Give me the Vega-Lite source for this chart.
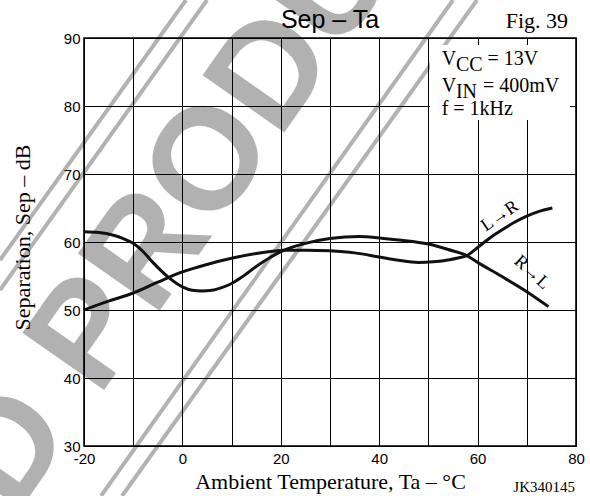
{
  "$schema": "https://vega.github.io/schema/vega-lite/v6.json",
  "width": 492,
  "height": 408,
  "autosize": {"type": "none"},
  "padding": {"left": 84, "top": 38, "right": 14, "bottom": 50},
  "background": "white",
  "config": {"view": {"stroke": "#000", "strokeWidth": 1.6}},
  "datasets": {
    "curves": [
      {"s": "R→L", "T": -20, "V": 61.5}, {"s": "R→L", "T": -17, "V": 61.4}, {"s": "R→L", "T": -14, "V": 61.0}, {"s": "R→L", "T": -12, "V": 60.5}, {"s": "R→L", "T": -10, "V": 59.8}, {"s": "R→L", "T": -8, "V": 58.6}, {"s": "R→L", "T": -6, "V": 57.0}, {"s": "R→L", "T": -3, "V": 54.9}, {"s": "R→L", "T": 0, "V": 53.4}, {"s": "R→L", "T": 2, "V": 52.9}, {"s": "R→L", "T": 4, "V": 52.8}, {"s": "R→L", "T": 6, "V": 52.9}, {"s": "R→L", "T": 8, "V": 53.3}, {"s": "R→L", "T": 10, "V": 53.9}, {"s": "R→L", "T": 12, "V": 54.8}, {"s": "R→L", "T": 15, "V": 56.4}, {"s": "R→L", "T": 18, "V": 57.8}, {"s": "R→L", "T": 20.7, "V": 58.8}, {"s": "R→L", "T": 25, "V": 59.8}, {"s": "R→L", "T": 30, "V": 60.5}, {"s": "R→L", "T": 36, "V": 60.8}, {"s": "R→L", "T": 40, "V": 60.6}, {"s": "R→L", "T": 44, "V": 60.3}, {"s": "R→L", "T": 50, "V": 59.7}, {"s": "R→L", "T": 54, "V": 58.9}, {"s": "R→L", "T": 57.8, "V": 58.0}, {"s": "R→L", "T": 60, "V": 57.0}, {"s": "R→L", "T": 64.5, "V": 55.1}, {"s": "R→L", "T": 70, "V": 52.7}, {"s": "R→L", "T": 74.4, "V": 50.5},
      {"s": "L→R", "T": -20, "V": 50.0}, {"s": "L→R", "T": -15, "V": 51.3}, {"s": "L→R", "T": -10, "V": 52.5}, {"s": "L→R", "T": -5, "V": 54.1}, {"s": "L→R", "T": 0, "V": 55.6}, {"s": "L→R", "T": 5, "V": 56.7}, {"s": "L→R", "T": 10, "V": 57.6}, {"s": "L→R", "T": 15, "V": 58.3}, {"s": "L→R", "T": 20.7, "V": 58.8}, {"s": "L→R", "T": 25, "V": 58.8}, {"s": "L→R", "T": 30, "V": 58.7}, {"s": "L→R", "T": 35, "V": 58.4}, {"s": "L→R", "T": 40, "V": 57.8}, {"s": "L→R", "T": 44, "V": 57.3}, {"s": "L→R", "T": 48, "V": 57.0}, {"s": "L→R", "T": 51, "V": 57.1}, {"s": "L→R", "T": 54.3, "V": 57.4}, {"s": "L→R", "T": 56, "V": 57.65}, {"s": "L→R", "T": 57.8, "V": 58.0}, {"s": "L→R", "T": 60, "V": 59.2}, {"s": "L→R", "T": 62.5, "V": 60.6}, {"s": "L→R", "T": 65, "V": 61.8}, {"s": "L→R", "T": 67.5, "V": 62.9}, {"s": "L→R", "T": 70, "V": 63.8}, {"s": "L→R", "T": 72.5, "V": 64.5}, {"s": "L→R", "T": 75.2, "V": 65.0}
    ],
    "wmlines": [
      {"T": -37.07, "V": 57.35, "T2": 0.73, "V2": 95.59},
      {"T": -37.07, "V": 52.94, "T2": 5.0, "V2": 95.59},
      {"T": -16.54, "V": 22.65, "T2": 55.0, "V2": 95.59},
      {"T": -12.28, "V": 22.65, "T2": 59.88, "V2": 95.59}
    ],
    "wmtext": [
      {"T": -21.75, "V": 32.21, "label": "DISCONTINUED", "side": "right"},
      {"T": -17.05, "V": 37.06, "label": "PRODUCT", "side": "left"}
    ],
    "box": [{"T": 50.33, "V": 88.97, "T2": 78.78, "V2": 77.94}],
    "notes": [
      {"T": 52.7, "V": 86.0, "label": "V"},
      {"T": 55.6, "V": 85.1, "label": "CC"},
      {"T": 62.0, "V": 86.0, "label": "= 13V"},
      {"T": 52.7, "V": 82.0, "label": "V"},
      {"T": 55.6, "V": 81.2, "label": "IN"},
      {"T": 61.1, "V": 82.0, "label": "= 400mV"},
      {"T": 52.7, "V": 78.7, "label": "f = 1kHz"}
    ],
    "curvelabels": [
      {"T": 64.55, "V": 63.8, "label": "L→R"},
      {"T": 71.0, "V": 55.5, "label": "R→L"}
    ],
    "corner": [
      {"T": 30, "V": 90, "label": "Sep – Ta"},
      {"T": 80, "V": 90, "label": "Fig. 39"},
      {"T": 80, "V": 30, "label": "JK340145"}
    ]
  },
  "encoding": {
    "x": {"field": "T", "type": "quantitative", "scale": {"domain": [-20, 80], "nice": false, "zero": false},
      "axis": {"values": [-20, -10, 0, 10, 20, 30, 40, 50, 60, 70, 80], "labelExpr": "datum.value % 20 === 0 ? '' + datum.value : ''", "title": "Ambient Temperature, Ta – °C", "titleFont": "Liberation Serif", "titleFontSize": 22, "titleFontWeight": "normal", "titleColor": "#000", "titleY": 42, "titleBaseline": "alphabetic", "labelFont": "Liberation Sans", "labelFontSize": 15, "labelColor": "#000", "labelPadding": 5, "labelFlush": false, "labelOverlap": false, "ticks": false, "domain": false, "grid": true, "gridColor": "#000", "gridWidth": 1, "gridOpacity": 1}},
    "y": {"field": "V", "type": "quantitative", "scale": {"domain": [30, 90], "nice": false, "zero": false},
      "axis": {"values": [30, 40, 50, 60, 70, 80, 90], "labelExpr": "'' + datum.value", "title": "Separation, Sep – dB", "titleFont": "Liberation Serif", "titleFontSize": 22, "titleFontWeight": "normal", "titleColor": "#000", "titleX": -55, "titleY": 199, "titleAlign": "center", "titleBaseline": "alphabetic", "titleAngle": 270, "labelFont": "Liberation Sans", "labelFontSize": 15, "labelColor": "#000", "labelPadding": 4, "labelFlush": false, "labelOverlap": false, "ticks": false, "domain": false, "grid": true, "gridColor": "#000", "gridWidth": 1, "gridOpacity": 1}}
  },
  "layer": [
    {
      "data": {"name": "wmlines"},
      "mark": {"type": "rule", "color": "#000", "opacity": 0.3, "strokeWidth": 4},
      "encoding": {"x2": {"field": "T2"}, "y2": {"field": "V2"}}
    },
    {
      "data": {"name": "wmtext"},
      "transform": [{"filter": "datum.side === 'right'"}],
      "mark": {"type": "text", "align": "right", "baseline": "alphabetic", "angle": -55, "font": "Liberation Sans", "fontWeight": "bold", "fontSize": 145, "color": "#000", "opacity": 0.3},
      "encoding": {"text": {"field": "label"}}
    },
    {
      "data": {"name": "wmtext"},
      "transform": [{"filter": "datum.side === 'left'"}],
      "mark": {"type": "text", "align": "left", "baseline": "alphabetic", "angle": -55, "font": "Liberation Sans", "fontWeight": "bold", "fontSize": 145, "color": "#000", "opacity": 0.3},
      "encoding": {"text": {"field": "label"}}
    },
    {
      "data": {"name": "box"},
      "mark": {"type": "rect", "color": "white", "opacity": 1},
      "encoding": {"x2": {"field": "T2"}, "y2": {"field": "V2"}}
    },
    {
      "data": {"name": "notes"},
      "mark": {"type": "text", "align": "left", "baseline": "alphabetic", "font": "Liberation Serif", "fontSize": 20, "color": "#000"},
      "encoding": {"text": {"field": "label"}}
    },
    {
      "data": {"name": "curves"},
      "mark": {"type": "line", "color": "#111", "strokeWidth": 3, "interpolate": "monotone"},
      "encoding": {"detail": {"field": "s"}}
    },
    {
      "data": {"name": "curvelabels"},
      "transform": [{"filter": "datum.label === 'L→R'"}],
      "mark": {"type": "text", "align": "center", "baseline": "middle", "angle": -34, "font": "Liberation Serif", "fontSize": 18, "color": "#000"},
      "encoding": {"text": {"field": "label"}}
    },
    {
      "data": {"name": "curvelabels"},
      "transform": [{"filter": "datum.label === 'R→L'"}],
      "mark": {"type": "text", "align": "center", "baseline": "middle", "angle": 42, "font": "Liberation Serif", "fontSize": 18, "color": "#000"},
      "encoding": {"text": {"field": "label"}}
    },
    {
      "data": {"name": "corner"},
      "transform": [{"filter": "datum.label === 'Sep – Ta'"}],
      "mark": {"type": "text", "align": "center", "baseline": "alphabetic", "dy": -10, "font": "Liberation Sans", "fontSize": 25, "color": "#000"},
      "encoding": {"text": {"field": "label"}}
    },
    {
      "data": {"name": "corner"},
      "transform": [{"filter": "datum.label === 'Fig. 39'"}],
      "mark": {"type": "text", "align": "right", "baseline": "alphabetic", "dx": -8, "dy": -10, "font": "Liberation Serif", "fontSize": 22, "color": "#000"},
      "encoding": {"text": {"field": "label"}}
    },
    {
      "data": {"name": "corner"},
      "transform": [{"filter": "datum.label === 'JK340145'"}],
      "mark": {"type": "text", "align": "right", "baseline": "alphabetic", "dx": -1, "dy": 46, "font": "Liberation Serif", "fontSize": 15, "color": "#000"},
      "encoding": {"text": {"field": "label"}}
    }
  ]
}
